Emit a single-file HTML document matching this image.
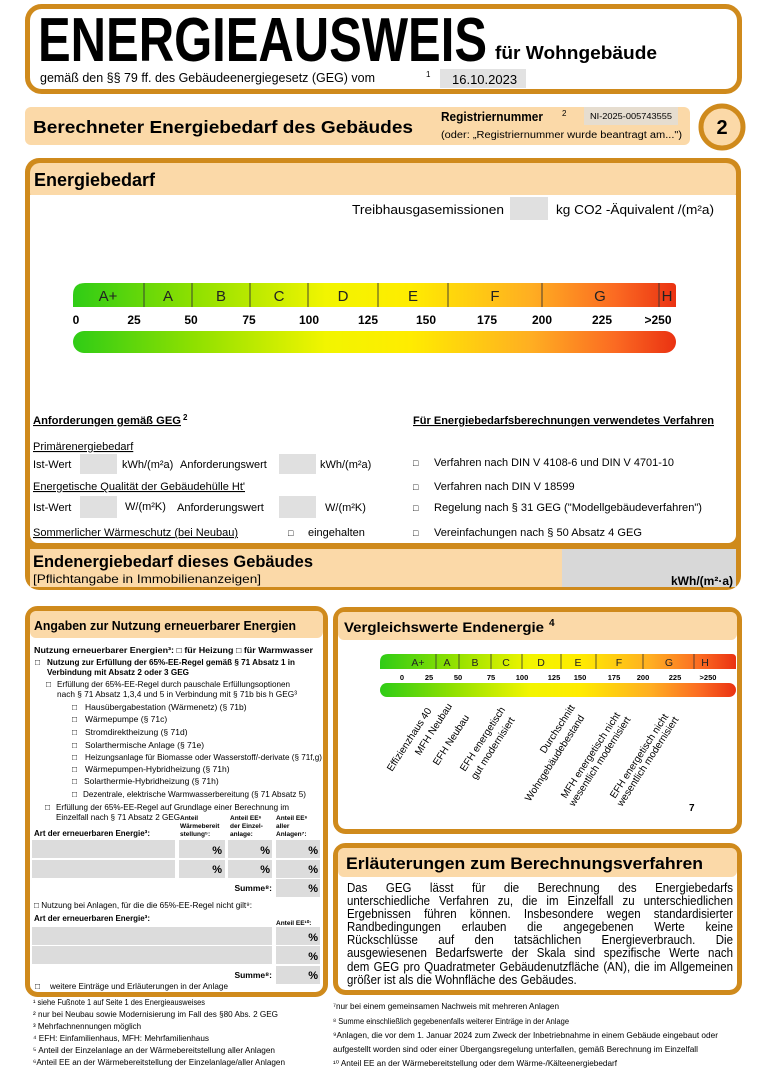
<!DOCTYPE html>
<html><head><meta charset="utf-8"><style>
html,body{margin:0;padding:0;background:#fff;}
body{position:relative;width:763px;height:1080px;overflow:hidden;}
svg{display:block;font-family:"Liberation Sans",Arial,sans-serif;}
#par{position:absolute;left:347px;top:882px;width:420px;transform:scaleX(0.919);transform-origin:0 0;font-family:"Liberation Sans",Arial,sans-serif;font-size:12.5px;line-height:13.1px;color:#000;}
#par div{text-align:justify;text-align-last:justify;white-space:nowrap;}
#par div.l{text-align-last:left;}
</style></head><body>
<svg width="763" height="1080" viewBox="0 0 763 1080" xmlns="http://www.w3.org/2000/svg">
<defs>
<linearGradient id="g" x1="0" x2="1" y1="0" y2="0">
<stop offset="0" stop-color="#2fcc16"/><stop offset="0.2" stop-color="#8ee000"/>
<stop offset="0.42" stop-color="#f2f500"/><stop offset="0.56" stop-color="#ffec00"/>
<stop offset="0.76" stop-color="#ffae22"/><stop offset="0.9" stop-color="#fb6a22"/>
<stop offset="1" stop-color="#ea3212"/></linearGradient>
</defs>
<rect width="763" height="1080" fill="#fff"/>
<rect x="27.5" y="6.5" width="712" height="85" rx="14" fill="#fff" stroke="#cf8a1c" stroke-width="5"/>
<text x="38" y="61" font-size="62" font-weight="bold" textLength="449" lengthAdjust="spacingAndGlyphs">ENERGIEAUSWEIS</text>
<text x="495" y="59" font-size="18" font-weight="bold" textLength="162" lengthAdjust="spacingAndGlyphs">für Wohngebäude</text>
<text x="40" y="82" font-size="12.5" textLength="335" lengthAdjust="spacingAndGlyphs">gemäß den §§ 79 ff. des Gebäudeenergiegesetz (GEG) vom</text>
<text x="426" y="77" font-size="8">1</text>
<rect x="440" y="69" width="86" height="19" fill="#e2e2e2"/>
<text x="452" y="84" font-size="13">16.10.2023</text>
<rect x="25" y="107" width="665" height="38" rx="6" fill="#fbd9a8"/>
<text x="33" y="133" font-size="17.5" font-weight="bold" textLength="380" lengthAdjust="spacingAndGlyphs">Berechneter Energiebedarf des Gebäudes</text>
<text x="441" y="121" font-size="12.5" font-weight="bold" textLength="102" lengthAdjust="spacingAndGlyphs">Registriernummer</text>
<text x="562" y="116" font-size="8">2</text>
<rect x="584" y="107" width="94" height="18" fill="#e6ddcf"/>
<text x="590" y="119" font-size="8.5" textLength="82" lengthAdjust="spacingAndGlyphs">NI-2025-005743555</text>
<text x="441" y="138" font-size="10" textLength="241" lengthAdjust="spacingAndGlyphs">(oder: „Registriernummer wurde beantragt am...")</text>
<circle cx="722" cy="127" r="21" fill="#fbd9a8" stroke="#cf8a1c" stroke-width="5"/>
<text x="722" y="134" font-size="20" font-weight="bold" text-anchor="middle">2</text>
<rect x="25" y="158" width="716" height="432" rx="14" fill="#cf8a1c"/>
<rect x="30" y="163" width="706" height="40" rx="10" fill="#fbd9a8"/>
<rect x="30" y="195" width="706" height="348" rx="8" fill="#fff"/>
<rect x="30" y="195" width="706" height="20" fill="#fff"/>
<rect x="30" y="549" width="706" height="38" fill="#fbd9a8"/>
<rect x="562" y="549" width="174" height="38" fill="#d8d8d8"/>
<text x="34" y="186" font-size="18" font-weight="bold">Energiebedarf</text>
<text x="352" y="214" font-size="13" textLength="152" lengthAdjust="spacingAndGlyphs">Treibhausgasemissionen</text>
<rect x="510" y="197" width="38" height="23" fill="#e0e0e0"/>
<text x="556" y="214" font-size="13" textLength="158" lengthAdjust="spacingAndGlyphs">kg CO2 -Äquivalent /(m²a)</text>
<path d="M85 283 H672 Q676 283 676 287 V307 H73 V295 Q73 283 85 283 Z" fill="url(#g)"/>
<rect x="73" y="331" width="603" height="22" rx="11" fill="url(#g)"/>
<g stroke="#333" stroke-width="0.9">
<line x1="144" y1="283" x2="144" y2="307"/><line x1="192" y1="283" x2="192" y2="307"/><line x1="250" y1="283" x2="250" y2="307"/><line x1="308" y1="283" x2="308" y2="307"/><line x1="378" y1="283" x2="378" y2="307"/><line x1="448" y1="283" x2="448" y2="307"/><line x1="542" y1="283" x2="542" y2="307"/><line x1="659" y1="283" x2="659" y2="307"/></g>
<g font-size="15" fill="#222" text-anchor="middle">
<text x="108" y="301">A+</text><text x="168" y="301">A</text><text x="221" y="301">B</text><text x="279" y="301">C</text><text x="343" y="301">D</text><text x="413" y="301">E</text><text x="495" y="301">F</text><text x="600" y="301">G</text><text x="667" y="301">H</text></g>
<g font-size="12" font-weight="bold" text-anchor="middle">
<text x="76" y="324">0</text><text x="134" y="324">25</text><text x="191" y="324">50</text><text x="249" y="324">75</text><text x="309" y="324">100</text><text x="368" y="324">125</text><text x="426" y="324">150</text><text x="487" y="324">175</text><text x="542" y="324">200</text><text x="602" y="324">225</text><text x="658" y="324">&gt;250</text></g>
<g font-size="11">
<text x="33" y="424" font-weight="bold" text-decoration="underline" textLength="148" lengthAdjust="spacingAndGlyphs">Anforderungen gemäß GEG</text><text x="183" y="420" font-size="8" font-weight="bold">2</text>
<text x="33" y="450" text-decoration="underline">Primärenergiebedarf</text>
<text x="33" y="468">Ist-Wert</text>
<rect x="80" y="454" width="37" height="20" fill="#e0e0e0"/><text x="122" y="468">kWh/(m²a)</text>
<text x="180" y="468">Anforderungswert</text>
<rect x="279" y="454" width="37" height="20" fill="#e0e0e0"/><text x="320" y="468">kWh/(m²a)</text>
<text x="33" y="490" text-decoration="underline" textLength="212" lengthAdjust="spacingAndGlyphs">Energetische Qualität der Gebäudehülle Ht'</text>
<text x="33" y="511">Ist-Wert</text>
<rect x="80" y="496" width="37" height="22" fill="#e0e0e0"/><text x="125" y="510">W/(m²K)</text>
<text x="177" y="511">Anforderungswert</text>
<rect x="279" y="496" width="37" height="22" fill="#e0e0e0"/><text x="325" y="511">W/(m²K)</text>
<text x="33" y="536" text-decoration="underline" textLength="205" lengthAdjust="spacingAndGlyphs">Sommerlicher Wärmeschutz (bei Neubau)</text>
<text x="288" y="536" font-size="9">□</text><text x="308" y="536">eingehalten</text>
<text x="413" y="424" font-weight="bold" text-decoration="underline" textLength="301" lengthAdjust="spacingAndGlyphs">Für Energiebedarfsberechnungen verwendetes Verfahren</text>
<text x="413" y="466" font-size="9">□</text><text x="434" y="466" textLength="240" lengthAdjust="spacingAndGlyphs">Verfahren nach DIN V 4108-6 und DIN V 4701-10</text>
<text x="413" y="490" font-size="9">□</text><text x="434" y="490">Verfahren nach DIN V 18599</text>
<text x="413" y="511" font-size="9">□</text><text x="434" y="511" textLength="268" lengthAdjust="spacingAndGlyphs">Regelung nach § 31 GEG ("Modellgebäudeverfahren")</text>
<text x="413" y="536" font-size="9">□</text><text x="434" y="536" textLength="208" lengthAdjust="spacingAndGlyphs">Vereinfachungen nach § 50 Absatz 4 GEG</text>
</g>
<text x="33" y="567" font-size="16.5" font-weight="bold" textLength="280" lengthAdjust="spacingAndGlyphs">Endenergiebedarf dieses Gebäudes</text>
<text x="33" y="583" font-size="12" textLength="228" lengthAdjust="spacingAndGlyphs">[Pflichtangabe in Immobilienanzeigen]</text>
<text x="733" y="585" font-size="12" font-weight="bold" text-anchor="end">kWh/(m²·a)</text>
<rect x="27.5" y="608.5" width="298" height="386" rx="10" fill="#fff" stroke="#cf8a1c" stroke-width="5"/>
<rect x="30" y="611" width="293" height="27" rx="6" fill="#fbd9a8"/>
<text x="34" y="630" font-size="12.5" font-weight="bold" textLength="262" lengthAdjust="spacingAndGlyphs">Angaben zur Nutzung erneuerbarer Energien</text>
<g font-size="8.5">
<text x="34" y="653" font-weight="bold" textLength="279" lengthAdjust="spacingAndGlyphs">Nutzung erneuerbarer Energien³: □ für Heizung  □ für Warmwasser</text>
<text x="35" y="665">□</text><text x="47" y="665" font-weight="bold" textLength="248" lengthAdjust="spacingAndGlyphs">Nutzung zur Erfüllung der 65%-EE-Regel gemäß § 71 Absatz 1 in</text>
<text x="47" y="675" font-weight="bold" textLength="142" lengthAdjust="spacingAndGlyphs">Verbindung mit Absatz 2 oder 3 GEG</text>
<text x="46" y="687">□</text><text x="57" y="687" textLength="233" lengthAdjust="spacingAndGlyphs">Erfüllung der 65%-EE-Regel durch pauschale Erfüllungsoptionen</text>
<text x="57" y="697" textLength="240" lengthAdjust="spacingAndGlyphs">nach § 71 Absatz 1,3,4 und 5 in Verbindung mit § 71b bis h GEG³</text>
<text x="72" y="710">□</text><text x="85" y="710">Hausübergabestation (Wärmenetz) (§ 71b)</text>
<text x="72" y="722">□</text><text x="85" y="722">Wärmepumpe (§ 71c)</text>
<text x="72" y="735">□</text><text x="85" y="735">Stromdirektheizung (§ 71d)</text>
<text x="72" y="748">□</text><text x="85" y="748">Solarthermische Anlage (§ 71e)</text>
<text x="72" y="760">□</text><text x="85" y="760" textLength="237" lengthAdjust="spacingAndGlyphs">Heizungsanlage für Biomasse oder Wasserstoff/-derivate (§ 71f,g)</text>
<text x="72" y="772">□</text><text x="85" y="772">Wärmepumpen-Hybridheizung (§ 71h)</text>
<text x="72" y="784">□</text><text x="84" y="784">Solarthermie-Hybridheizung (§ 71h)</text>
<text x="72" y="797">□</text><text x="83" y="797" textLength="223" lengthAdjust="spacingAndGlyphs">Dezentrale, elektrische Warmwasserbereitung (§ 71 Absatz 5)</text>
<text x="45" y="810">□</text><text x="56" y="810" textLength="233" lengthAdjust="spacingAndGlyphs">Erfüllung der 65%-EE-Regel auf Grundlage einer Berechnung im</text>
<text x="56" y="820" textLength="124" lengthAdjust="spacingAndGlyphs">Einzelfall nach § 71 Absatz 2 GEG</text>
<text x="34" y="836" font-weight="bold" textLength="116" lengthAdjust="spacingAndGlyphs">Art der erneuerbaren Energie³:</text>
</g>
<g font-size="6.5" font-weight="bold">
<text x="180" y="820">Anteil</text><text x="180" y="828">Wärmebereit</text><text x="180" y="836">stellung⁵:</text>
<text x="230" y="820">Anteil EE⁶</text><text x="230" y="828">der Einzel-</text><text x="230" y="836">anlage:</text>
<text x="276" y="820">Anteil EE⁶</text><text x="276" y="828">aller</text><text x="276" y="836">Anlagen⁷:</text>
</g>
<g fill="#dcdcdc">
<rect x="32" y="840" width="143" height="18"/><rect x="179" y="840" width="46" height="18"/><rect x="228" y="840" width="44" height="18"/><rect x="276" y="840" width="44" height="18"/>
<rect x="32" y="860" width="143" height="18"/><rect x="179" y="860" width="46" height="18"/><rect x="228" y="860" width="44" height="18"/><rect x="276" y="860" width="44" height="18"/>
<rect x="276" y="879" width="44" height="18"/>
<rect x="32" y="927" width="240" height="18"/><rect x="276" y="927" width="44" height="18"/>
<rect x="32" y="946" width="240" height="18"/><rect x="276" y="946" width="44" height="18"/>
<rect x="276" y="966" width="44" height="18"/></g>
<g font-size="11" font-weight="bold" text-anchor="end">
<text x="222" y="854">%</text><text x="270" y="854">%</text><text x="318" y="854">%</text>
<text x="222" y="873">%</text><text x="270" y="873">%</text><text x="318" y="873">%</text>
<text x="318" y="892">%</text><text x="318" y="941">%</text><text x="318" y="960">%</text><text x="318" y="979">%</text>
</g>
<g font-size="8.5">
<text x="272" y="891" text-anchor="end" font-weight="bold">Summe⁸:</text>
<text x="34" y="908" textLength="218" lengthAdjust="spacingAndGlyphs">□ Nutzung bei Anlagen, für die die 65%-EE-Regel nicht gilt⁹:</text>
<text x="34" y="921" font-weight="bold" textLength="116" lengthAdjust="spacingAndGlyphs">Art der erneuerbaren Energie³:</text>
<text x="276" y="925" font-size="6.5" font-weight="bold">Anteil EE¹⁰:</text>
<text x="272" y="978" text-anchor="end" font-weight="bold">Summe⁸:</text>
<text x="35" y="989">□</text><text x="50" y="989" textLength="178" lengthAdjust="spacingAndGlyphs">weitere Einträge und Erläuterungen in der Anlage</text>
</g>
<rect x="335.5" y="609.5" width="404" height="222" rx="10" fill="#fff" stroke="#cf8a1c" stroke-width="5"/>
<rect x="338" y="612" width="399" height="28" rx="6" fill="#fbd9a8"/>
<text x="344" y="632" font-size="14" font-weight="bold" textLength="200" lengthAdjust="spacingAndGlyphs">Vergleichswerte Endenergie</text>
<text x="549" y="626" font-size="10" font-weight="bold">4</text>
<path d="M388 654 H732 Q736 654 736 658 V669 H380 V662 Q380 654 388 654 Z" fill="url(#g)"/>
<rect x="380" y="683" width="356" height="14" rx="7" fill="url(#g)"/>
<g stroke="#333" stroke-width="0.8">
<line x1="436" y1="654" x2="436" y2="669"/><line x1="459" y1="654" x2="459" y2="669"/><line x1="491" y1="654" x2="491" y2="669"/><line x1="522" y1="654" x2="522" y2="669"/><line x1="561" y1="654" x2="561" y2="669"/><line x1="596" y1="654" x2="596" y2="669"/><line x1="643" y1="654" x2="643" y2="669"/><line x1="694" y1="654" x2="694" y2="669"/></g>
<g font-size="10.5" fill="#222" text-anchor="middle">
<text x="418" y="666">A+</text><text x="447" y="666">A</text><text x="475" y="666">B</text><text x="506" y="666">C</text><text x="541" y="666">D</text><text x="578" y="666">E</text><text x="619" y="666">F</text><text x="669" y="666">G</text><text x="705" y="666">H</text></g>
<g font-size="7.5" font-weight="bold" text-anchor="middle">
<text x="402" y="680">0</text><text x="429" y="680">25</text><text x="458" y="680">50</text><text x="491" y="680">75</text><text x="522" y="680">100</text><text x="554" y="680">125</text><text x="580" y="680">150</text><text x="614" y="680">175</text><text x="643" y="680">200</text><text x="675" y="680">225</text><text x="708" y="680">&gt;250</text></g>
<g font-size="10">
<text transform="translate(392,772) rotate(-57)">Effizienzhaus 40</text>
<text transform="translate(420,756) rotate(-57)">MFH Neubau</text>
<text transform="translate(438,766) rotate(-57)">EFH Neubau</text>
<text transform="translate(465,772) rotate(-57)">EFH energetisch</text>
<text transform="translate(476,780) rotate(-57)">gut modernisiert</text>
<text transform="translate(545,754) rotate(-57)">Durchschnitt</text>
<text transform="translate(530,802) rotate(-57)">Wohngebäudebestand</text>
<text transform="translate(566,799) rotate(-57)">MFH energetisch nicht</text>
<text transform="translate(574,807) rotate(-57)">wesentlich modernisiert</text>
<text transform="translate(615,799) rotate(-57)">EFH energetisch nicht</text>
<text transform="translate(622,807) rotate(-57)">wesentlich modernisiert</text>
</g>
<text x="689" y="811" font-size="10" font-weight="bold">7</text>
<rect x="335.5" y="845.5" width="404" height="147" rx="10" fill="#fff" stroke="#cf8a1c" stroke-width="5"/>
<rect x="338" y="848" width="399" height="29" rx="6" fill="#fbd9a8"/>
<text x="346" y="869" font-size="17" font-weight="bold" textLength="357" lengthAdjust="spacingAndGlyphs">Erläuterungen zum Berechnungsverfahren</text>
<g font-size="8">
<text x="33" y="1005" textLength="172" lengthAdjust="spacingAndGlyphs">¹ siehe Fußnote 1 auf Seite 1 des Energieausweises</text>
<text x="33" y="1017" textLength="245" lengthAdjust="spacingAndGlyphs">² nur bei Neubau sowie Modernisierung im Fall des §80 Abs. 2 GEG</text>
<text x="33" y="1029">³ Mehrfachnennungen möglich</text>
<text x="33" y="1041" textLength="176" lengthAdjust="spacingAndGlyphs">⁴ EFH: Einfamilienhaus, MFH: Mehrfamilienhaus</text>
<text x="33" y="1053" textLength="242" lengthAdjust="spacingAndGlyphs">⁵ Anteil der Einzelanlage an der Wärmebereitstellung aller Anlagen</text>
<text x="33" y="1065" textLength="252" lengthAdjust="spacingAndGlyphs">⁶Anteil EE an der Wärmebereitstellung der Einzelanlage/aller Anlagen</text>
<text x="333" y="1009" textLength="226" lengthAdjust="spacingAndGlyphs">⁷nur bei einem gemeinsamen Nachweis mit mehreren Anlagen</text>
<text x="333" y="1024" textLength="236" lengthAdjust="spacingAndGlyphs">⁸ Summe einschließlich gegebenenfalls weiterer Einträge in der Anlage</text>
<text x="333" y="1038" textLength="385" lengthAdjust="spacingAndGlyphs">⁹Anlagen, die vor dem 1. Januar 2024 zum Zweck der Inbetriebnahme in einem Gebäude eingebaut oder</text>
<text x="333" y="1052" textLength="365" lengthAdjust="spacingAndGlyphs">aufgestellt worden sind oder einer Übergangsregelung unterfallen, gemäß Berechnung im Einzelfall</text>
<text x="333" y="1066" textLength="284" lengthAdjust="spacingAndGlyphs">¹⁰ Anteil EE an der Wärmebereitstellung oder dem Wärme-/Kälteenergiebedarf</text>
</g>
</svg>
<div id="par">
<div>Das GEG lässt für die Berechnung des Energiebedarfs</div>
<div>unterschiedliche Verfahren zu, die im Einzelfall zu unterschiedlichen</div>
<div>Ergebnissen führen können. Insbesondere wegen standardisierter</div>
<div>Randbedingungen erlauben die angegebenen Werte keine</div>
<div>Rückschlüsse auf den tatsächlichen Energieverbrauch. Die</div>
<div>ausgewiesenen Bedarfswerte der Skala sind spezifische Werte nach</div>
<div>dem GEG pro Quadratmeter Gebäudenutzfläche (AN), die im Allgemeinen</div>
<div class="l">größer ist als die Wohnfläche des Gebäudes.</div>
</div>
</body></html>
